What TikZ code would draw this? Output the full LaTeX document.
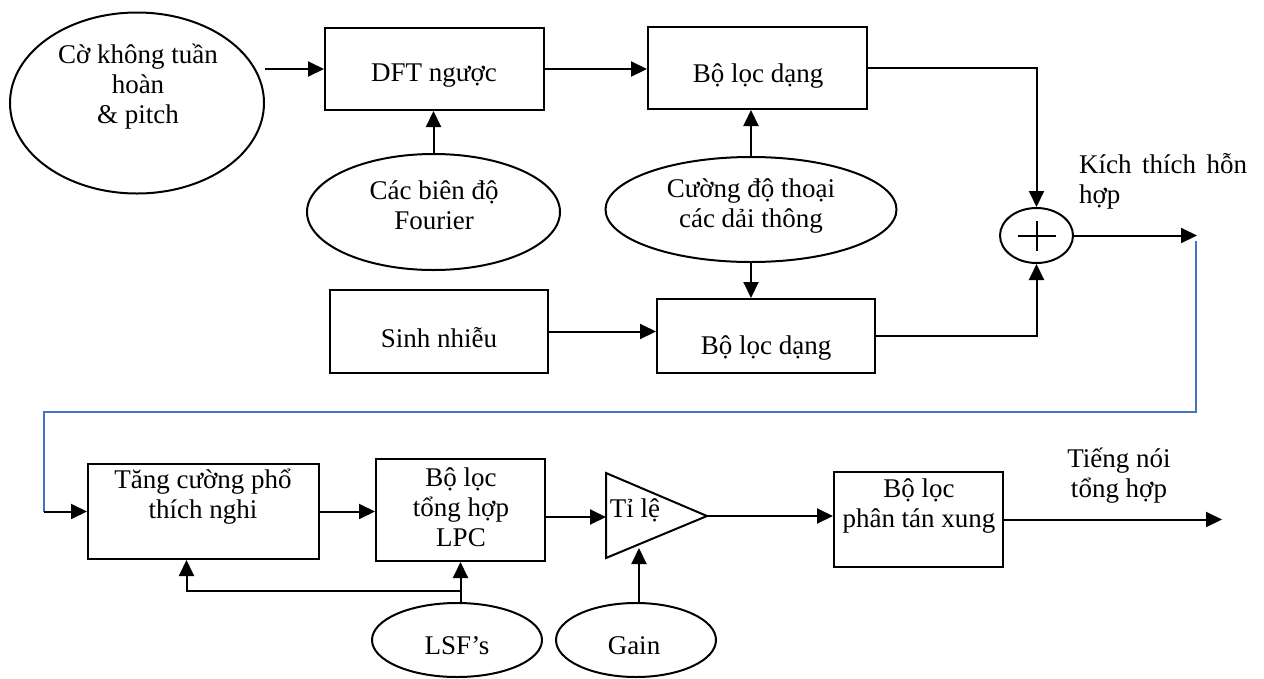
\documentclass[tikz,border=0pt]{standalone}
\usepackage{fontspec}
\setmainfont{Liberation Serif}
\usetikzlibrary{arrows.meta,shapes.geometric}
\definecolor{fbblue}{RGB}{68,114,196}

\begin{document}
\begin{tikzpicture}[
        x=1pt, y=-1pt,
        line width=2pt,
        font=\fontsize{27}{30}\selectfont,
        blk/.style={draw, rectangle, inner sep=0pt},
        oval/.style={draw, ellipse, inner sep=0pt},
        txt/.style={align=center, inner sep=0pt},
        arr/.style={-{Triangle[length=16pt,width=15pt]}},
        fb/.style={draw=fbblue}
    ]
    \useasboundingbox (0,0) rectangle (1264,678);

    % upper half: excitation
    \node[oval, minimum width=254pt, minimum height=181pt] (flag) at (137,103) {};
    \node[blk, minimum width=219pt, minimum height=82pt] (dft) at (434.5,69) {};
    \node[blk, minimum width=219pt, minimum height=82pt] (shp1) at (757.5,68) {};
    \node[oval, minimum width=253pt, minimum height=116pt] (four) at (433.5,212) {};
    \node[oval, minimum width=291pt, minimum height=105pt] (band) at (751,209.5) {};
    \node[blk, minimum width=218pt, minimum height=83pt] (noise) at (439,331.5) {};
    \node[blk, minimum width=218pt, minimum height=74pt] (shp2) at (766,336) {};
    \node[oval, minimum width=73pt, minimum height=55pt] (sum) at (1036.5,235.5) {};
    \draw ([xshift=-19pt]sum.center) -- ([xshift=19pt]sum.center);
    \draw ([yshift=-15pt]sum.center) -- ([yshift=15pt]sum.center);

    \node[txt] (flagtxt) at (138,87) {Cờ không tuần\\hoàn\\\& pitch};
    \node[txt] (dfttxt) at (434,76) {DFT ngược};
    \node[txt] (shp1txt) at (758,76) {Bộ lọc dạng};
    \node[txt] (fourtxt) at (434,205) {Các biên độ\\Fourier};
    \node[txt] (bandtxt) at (751,206) {Cường độ thoại\\các dải thông};
    \node[txt] (noisetxt) at (439,338) {Sinh nhiễu};
    \node[txt] (shp2txt) at (766,348) {Bộ lọc dạng};
    \node[txt, anchor=west, align=left] (mixtxt) at (1078,181) {\makebox[168pt][s]{Kích thích hỗn}\\hợp};

    \draw[arr] (flag.east |- dft.west) -- (dft.west);
    \draw[arr] (dft.east) -- (dft.east -| shp1.west);
    \draw[arr] (four.north) -- (four.north |- dft.south);
    \draw[arr] (band.north) -- (band.north |- shp1.south);
    \draw[arr] (band.south) -- (band.south |- shp2.north);
    \draw[arr] (noise.east) -- (noise.east -| shp2.west);
    \draw[arr] (shp1.east) -| (sum.north);
    \draw[arr] (shp2.east) -| (sum.south);

    \coordinate (mixout) at (1197,235.5);
    \draw[arr] (sum.east) -- (mixout);

    % feedback to the lower half
    \coordinate (fbstart) at (1196,241);
    \coordinate (fbright) at (1196,412);
    \coordinate (fbleft) at (44,412);
    \coordinate (fbend) at (44,511.5);
    \draw[fb] (fbstart) -- (fbright) -- (fbleft) -- (fbend);

    % lower half: synthesis
    \node[blk, minimum width=231pt, minimum height=95pt] (enh) at (203.5,511.5) {};
    \node[blk, minimum width=169pt, minimum height=102pt] (lpc) at (460.5,510) {};
    \node[blk, minimum width=169pt, minimum height=95pt] (disp) at (918.5,519.5) {};
    \node[oval, minimum width=170pt, minimum height=74pt] (lsf) at (457,640) {};
    \node[oval, minimum width=160pt, minimum height=74pt] (gain) at (636,640) {};

    \coordinate (ampin) at (606,517);
    \coordinate (ampout) at (707,516);
    \coordinate (ampbot) at (639,548);
    \draw (606,473) -- (ampout) -- (606,558) -- cycle;

    \node[txt] (enhtxt) at (203,497) {Tăng cường phổ\\thích nghi};
    \node[txt] (lpctxt) at (461,507) {Bộ lọc\\tổng hợp\\LPC};
    \node[txt] (amptxt) at (635,510) {Tỉ lệ};
    \node[txt] (disptxt) at (919,506) {Bộ lọc\\phân tán xung};
    \node[txt] (lsftxt) at (457,646) {LSF’s};
    \node[txt] (gaintxt) at (634,646) {Gain};
    \node[txt] (speechtxt) at (1119,476) {Tiếng nói\\tổng hợp};

    \draw[arr] (fbend) -- (enh.west);
    \draw[arr] (enh.east) -- (enh.east -| lpc.west);
    \draw[arr] (lpc.east |- ampin) -- (ampin);
    \draw[arr] (ampout) -- (ampout -| disp.west);
    \coordinate (speechout) at (1222,519.5);
    \draw[arr] (disp.east) -- (speechout);

    \draw[arr] (lpc.south |- lsf.north) -- (lpc.south);
    \path (lpc.south) ++(0,29) coordinate (lsfsplit);
    \draw[arr] (lsfsplit) -| ([xshift=-17pt]enh.south);
    \draw[arr] (ampbot |- gain.north) -- (ampbot);
\end{tikzpicture}
\end{document}
